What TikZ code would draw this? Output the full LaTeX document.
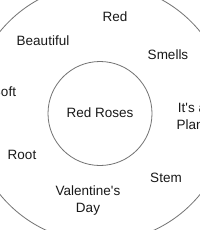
\documentclass[tikz,border=0pt]{standalone}
\usepackage{fontspec}
\newfontfamily\lsans{Liberation Sans}
\begin{document}
\begin{tikzpicture}[x=1pt,y=-1pt,
  ring/.style={circle, draw=black!55, line width=0.8pt, inner sep=0pt},
  lbl/.style={font=\lsans\fontsize{13.5}{16.5}\selectfont, text=black!90, align=center, inner sep=0pt}]
\useasboundingbox (0,0) rectangle (200,230);
\clip (0,0) rectangle (200,230);
\fill[white] (0,0) rectangle (200,230);
\node[ring, minimum size=258pt] (outer) at (100,113) {};
\node[ring, minimum size=104pt] (inner) at (100,113.5) {};
\node[lbl] (center) at (100,113) {Red Roses};
\node[lbl] (red) at (115,17) {Red};
\node[lbl] (beautiful) at (43,41) {Beautiful};
\node[lbl] (smells) at (168,55) {Smells};
\node[lbl] (soft) at (4,92) {Soft};
\node[lbl] (plant) at (192,116.5) {It's a\\Plant};
\node[lbl] (root) at (22,155) {Root};
\node[lbl] (stem) at (166,178) {Stem};
\node[lbl] (valentine) at (88,200.5) {Valentine's\\Day};
\end{tikzpicture}
\end{document}
